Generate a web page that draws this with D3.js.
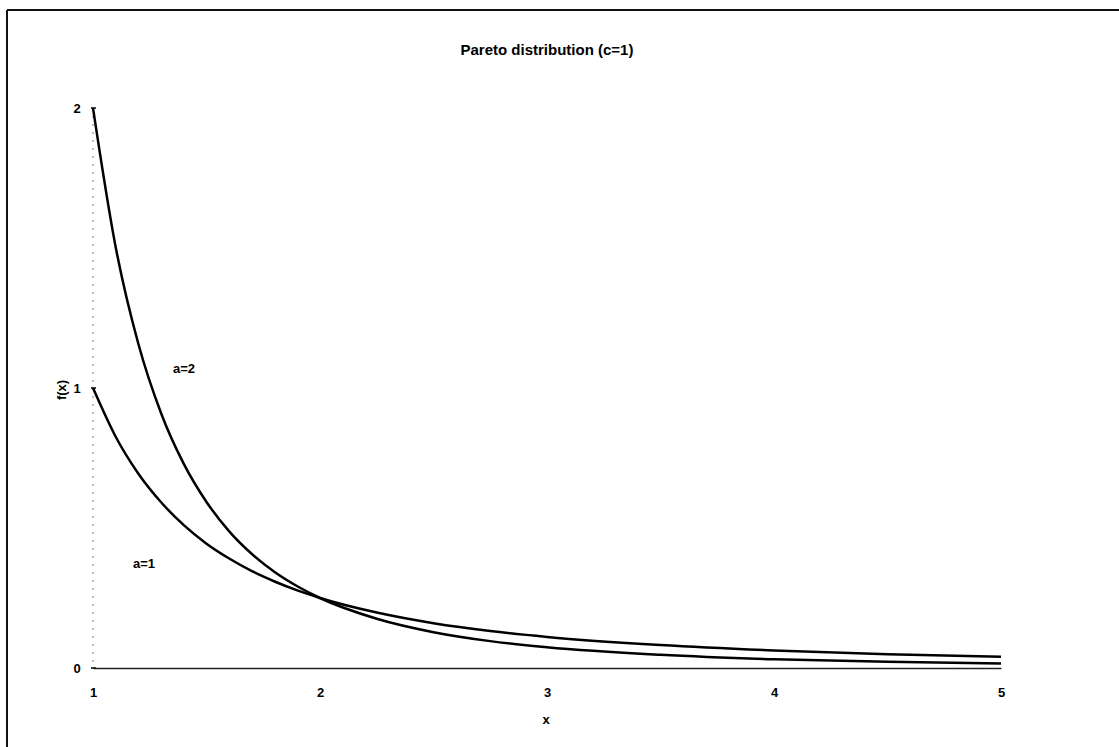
<!DOCTYPE html>
<html lang="en">
<head>
  <meta charset="UTF-8">
  <title>Pareto distribution</title>
  <style>
    body { margin: 0; background: #fff; }
    svg text { font-family: "Liberation Sans", Arial, sans-serif; font-weight: bold; fill: #000; }
  </style>
</head>
<body>
  <svg width="1119" height="747"></svg>
  <script src="https://d3js.org/d3.v7.min.js"></script>
  <script>

  // values
  var xs  = [1, 1.1, 1.2, 1.3, 1.4, 1.5, 1.6, 1.7, 1.8, 1.9, 2, 2.25, 2.5, 2.75, 3, 3.5, 4, 4.5, 5];
  var a1  = [1, 0.826, 0.694, 0.592, 0.510, 0.444, 0.391, 0.346, 0.309, 0.277, 0.25, 0.198, 0.16, 0.132, 0.111, 0.082, 0.0625, 0.049, 0.04];
  var a2  = [2, 1.503, 1.157, 0.910, 0.729, 0.593, 0.488, 0.407, 0.343, 0.292, 0.25, 0.176, 0.128, 0.096, 0.074, 0.047, 0.031, 0.022, 0.016];
  var xTicks = [1, 2, 3, 4, 5];
  var yTicks = [0, 1, 2];
  var seriesNames = ['a=1', 'a=2'];

  var svg = d3.select('svg');

  // frame (top + left edges only)
  svg.append('line').attr('x1', 7).attr('y1', 10).attr('x2', 1119).attr('y2', 10)
    .attr('stroke', '#111').attr('stroke-width', 2);
  svg.append('line').attr('x1', 7).attr('y1', 10).attr('x2', 7).attr('y2', 747)
    .attr('stroke', '#111').attr('stroke-width', 2);

  var x = d3.scaleLinear().domain([1, 5]).range([93, 1001]);
  var y = d3.scaleLinear().domain([0, 2]).range([668, 108]);

  svg.append('text')
    .attr('x', 547).attr('y', 55)
    .attr('text-anchor', 'middle')
    .style('font-size', '15px')
    .text('Pareto distribution (c=1)');

  // y axis: faint dotted line
  svg.append('line')
    .attr('x1', x(1)).attr('x2', x(1))
    .attr('y1', y(2)).attr('y2', y(0))
    .attr('stroke', '#777').attr('stroke-width', 1)
    .attr('stroke-dasharray', '2,6');

  svg.selectAll('.ytick').data(yTicks).enter().append('line')
    .attr('x1', x(1) - 2).attr('x2', x(1) + 3)
    .attr('y1', function(d) { return y(d); })
    .attr('y2', function(d) { return y(d); })
    .attr('stroke', '#000').attr('stroke-width', 1.5);

  svg.selectAll('.ylab').data(yTicks).enter().append('text')
    .attr('x', 77)
    .attr('y', function(d) { return y(d) + 5; })
    .attr('text-anchor', 'middle')
    .style('font-size', '13px')
    .text(function(d) { return d; });

  // x axis
  var xAxis = d3.axisBottom(x).tickValues(xTicks).tickSize(0).tickPadding(20)
    .tickFormat(d3.format('d'));
  var gx = svg.append('g').attr('transform', 'translate(0,' + y(0) + ')').call(xAxis);
  gx.select('.domain').attr('stroke', '#222').attr('stroke-width', 1.5);
  gx.selectAll('text').style('font-size', '13px')
    .style('font-family', '"Liberation Sans", Arial, sans-serif').style('font-weight', 'bold');

  svg.append('text')
    .attr('x', 546).attr('y', 724)
    .attr('text-anchor', 'middle')
    .style('font-size', '13px')
    .text('x');

  svg.append('text')
    .attr('transform', 'translate(66,390) rotate(-90)')
    .attr('text-anchor', 'middle')
    .style('font-size', '13px')
    .text('f(x)');

  var line = d3.line()
    .x(function(d) { return x(d[0]); })
    .y(function(d) { return y(d[1]); })
    .curve(d3.curveMonotoneX);

  [a1, a2].forEach(function(vals) {
    svg.append('path')
      .datum(xs.map(function(v, i) { return [v, vals[i]]; }))
      .attr('d', line)
      .attr('fill', 'none')
      .attr('stroke', '#000')
      .attr('stroke-width', 2.5);
  });

  // curve labels
  svg.append('text').attr('x', 133).attr('y', 568).style('font-size', '13px').text(seriesNames[0]);
  svg.append('text').attr('x', 173).attr('y', 373).style('font-size', '13px').text(seriesNames[1]);

  </script>
</body>
</html>
